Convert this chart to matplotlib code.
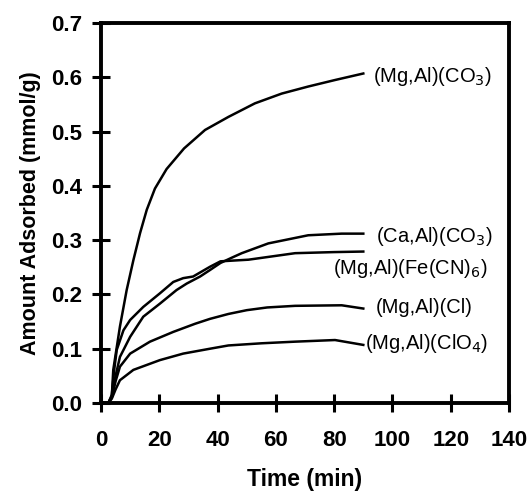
import matplotlib
matplotlib.use("Agg")
import matplotlib.pyplot as plt

plt.rcParams["font.family"] = ["Liberation Sans", "DejaVu Sans"]

# time (min) and amount adsorbed (mmol/g)
t_co3 = [0, 2.5, 3.7, 4.2, 6.5, 8.8, 11.1, 13.4, 15.7, 18.5, 22.5, 28.5, 35.7, 43.7, 52.8, 62, 71.1, 80.3, 90]
v_co3 = [0, 0, 0.012, 0.061, 0.141, 0.208, 0.263, 0.313, 0.356, 0.395, 0.431, 0.469, 0.503, 0.527, 0.552, 0.570, 0.583, 0.595, 0.607]

t_ca = [0, 2.5, 3.7, 5, 6.5, 10, 14.5, 20.2, 25.9, 29.4, 34, 37.4, 41, 45, 48.3, 57.4, 71.1, 82.6, 90]
v_ca = [0, 0, 0.012, 0.05, 0.085, 0.122, 0.159, 0.183, 0.208, 0.220, 0.233, 0.245, 0.258, 0.268, 0.276, 0.294, 0.309, 0.312, 0.312]

t_fecn = [0, 2.5, 3.7, 4.5, 5.4, 7.7, 10, 14.5, 20.2, 24.8, 28.2, 31.6, 37.4, 41, 50.6, 66.6, 80, 90]
v_fecn = [0, 0, 0.015, 0.06, 0.098, 0.134, 0.153, 0.177, 0.202, 0.223, 0.230, 0.233, 0.251, 0.261, 0.264, 0.276, 0.278, 0.279]

t_cl = [0, 2.5, 3.7, 5, 6.5, 10, 16.8, 24.8, 32.3, 37.4, 43.7, 50, 57, 66.6, 82.6, 90]
v_cl = [0, 0, 0.01, 0.04, 0.067, 0.091, 0.113, 0.131, 0.146, 0.155, 0.164, 0.171, 0.176, 0.179, 0.180, 0.174]

t_clo4 = [0, 2.5, 3.7, 5, 6.5, 11.1, 20.2, 28.2, 37.4, 43.7, 55.1, 66.6, 80.3, 90]
v_clo4 = [0, 0, 0.008, 0.025, 0.042, 0.061, 0.079, 0.091, 0.100, 0.106, 0.110, 0.113, 0.116, 0.107]

labels = ["(Mg,Al)(CO$_3$)", "(Ca,Al)(CO$_3$)", "(Mg,Al)(Fe(CN)$_6$)", "(Mg,Al)(Cl)", "(Mg,Al)(ClO$_4$)"]
label_t = [93.2, 94.4, 79.7, 94.4, 90.6]
label_v = [0.602, 0.306, 0.248, 0.176, 0.110]

fig = plt.figure(figsize=(5.30, 4.96), dpi=100)
ax = fig.add_axes([0.1906, 0.1875, 0.7698, 0.7661])

for t, v in [(t_co3, v_co3), (t_ca, v_ca), (t_fecn, v_fecn), (t_cl, v_cl), (t_clo4, v_clo4)]:
    ax.plot(t, v, color="black", linewidth=1.8)

for text, x, y in zip(labels, label_t, label_v):
    ax.text(x, y, text, fontsize=14.5, va="center", ha="left")

ax.set_xlim(0, 140)
ax.set_ylim(0, 0.7)
ax.set_xticks(range(0, 141, 20))
ax.set_yticks([i / 10 for i in range(8)])
ax.set_yticklabels([f"{i / 10:.1f}" for i in range(8)])
for spine in ax.spines.values():
    spine.set_linewidth(2.8)
ax.tick_params(direction="inout", length=13, width=2.2, labelsize=16)
ax.tick_params(axis="x", pad=13)
ax.tick_params(axis="y", pad=7)
for lab in ax.get_xticklabels() + ax.get_yticklabels():
    lab.set_fontweight("bold")

ax.set_xlabel("Time (min)", fontsize=16.5, fontweight="bold", labelpad=12)
ax.set_ylabel("Amount Adsorbed (mmol/g)", fontsize=15.5, fontweight="bold", labelpad=7)

fig.savefig("out.png", dpi=100)
